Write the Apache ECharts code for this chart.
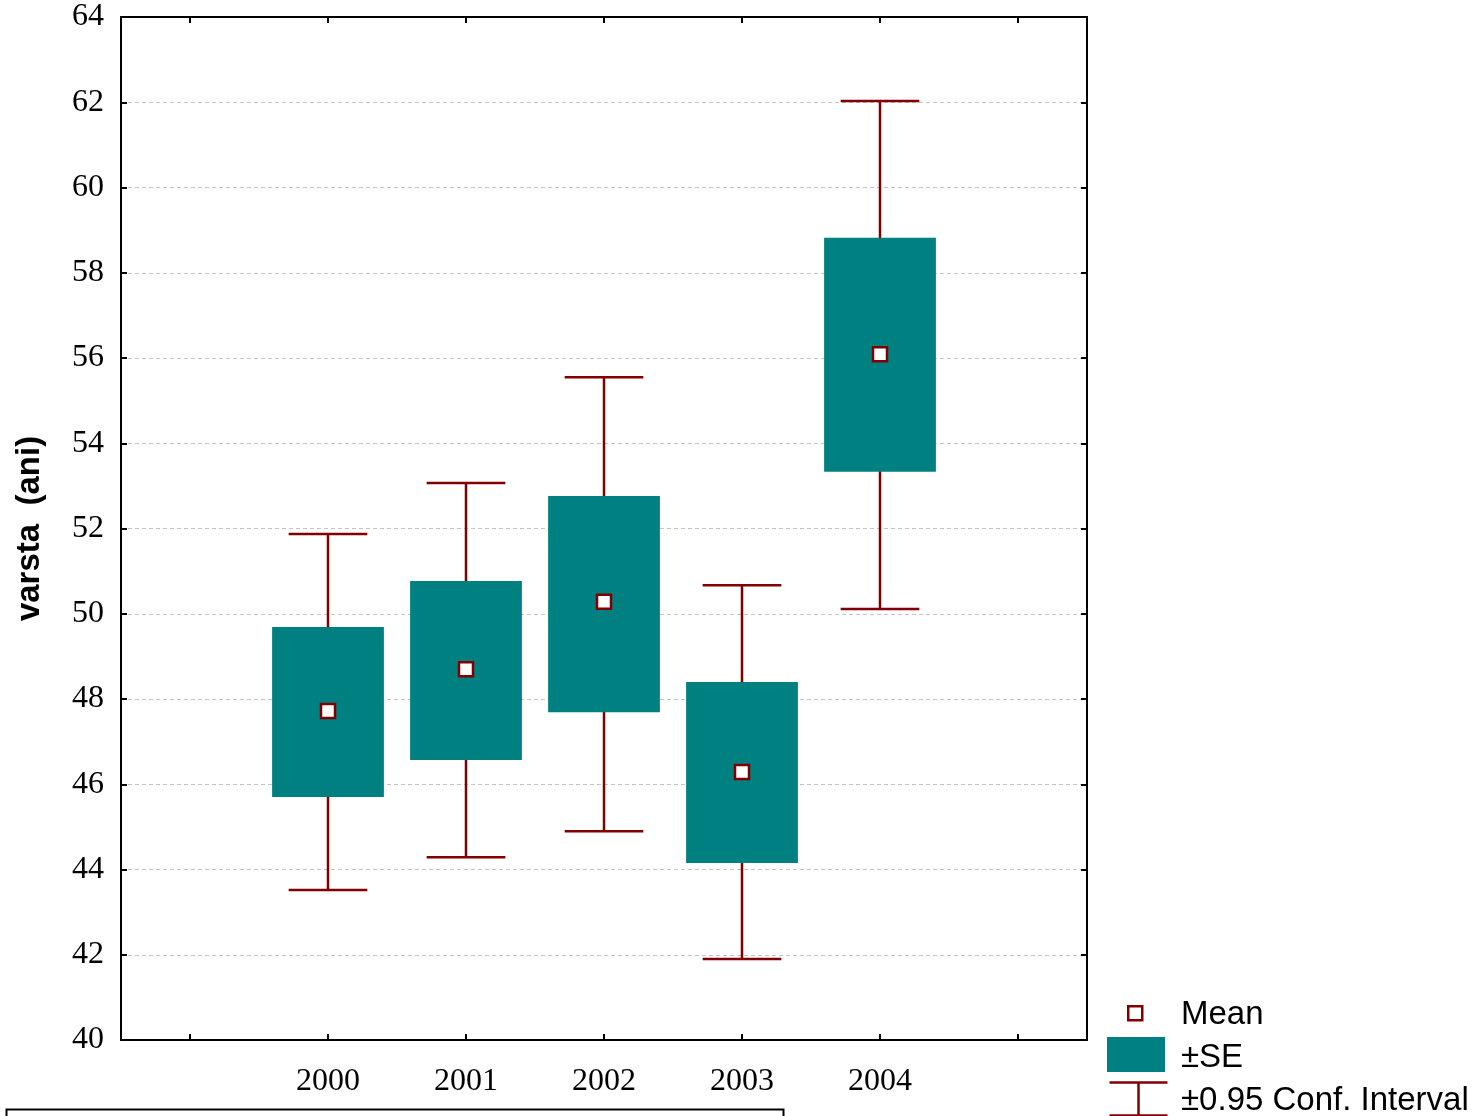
<!DOCTYPE html>
<html><head><meta charset="utf-8">
<script src="https://cdn.jsdelivr.net/npm/echarts@6/dist/echarts.min.js"></script>
<style>html,body{margin:0;padding:0;background:#fff}#c{width:1476px;height:1116px}</style>
</head><body><div id="c"></div>
<script>
var categories = ['', '2000', '2001', '2002', '2003', '2004', ''];
var years = ['2000', '2001', '2002', '2003', '2004'];
var meanValues = [47.72, 48.70, 50.28, 46.29, 56.09];
var seLow = [45.70, 46.57, 47.69, 44.15, 53.33];
var seHigh = [49.69, 50.77, 52.76, 48.40, 58.82];
var ciLow = [43.52, 44.29, 44.90, 41.90, 50.11];
var ciHigh = [51.87, 53.07, 55.55, 50.67, 62.03];
var yTicks = { min: 40, max: 64, interval: 2 };

var TEAL = '#008080', RED = '#800000';
var chart = echarts.init(document.getElementById('c'));

var seData = years.map(function (y, i) { return [y, seLow[i], seHigh[i]]; });
var ciData = years.map(function (y, i) { return [y, ciLow[i], ciHigh[i]]; });
var meanData = years.map(function (y, i) { return [y, meanValues[i]]; });

var serifFont = '"Liberation Serif", "Times New Roman", serif';
var sansFont = '"Liberation Sans", Arial, sans-serif';

chart.setOption({
  animation: false,
  grid: { left: 121, right: 389, top: 17, bottom: 76, containLabel: false, outerBoundsMode: 'none' },
  xAxis: [{
    type: 'category', data: categories, position: 'bottom',
    boundaryGap: true,
    axisLine: { show: true, lineStyle: { color: '#000', width: 2 } },
    axisTick: { show: true, inside: true, length: 6, alignWithLabel: true, lineStyle: { color: '#000', width: 2 } },
    axisLabel: { color: '#000', fontFamily: serifFont, fontSize: 32, margin: 26, interval: 0 },
    splitLine: { show: false }
  }, {
    type: 'category', data: categories, position: 'top',
    boundaryGap: true,
    axisLine: { show: true, lineStyle: { color: '#000', width: 2 } },
    axisTick: { show: true, inside: true, length: 6, alignWithLabel: true, lineStyle: { color: '#000', width: 2 } },
    axisLabel: { show: false },
    splitLine: { show: false }
  }],
  yAxis: [{
    type: 'value', min: yTicks.min, max: yTicks.max, interval: yTicks.interval, position: 'left',
    name: 'varsta  (ani)', nameLocation: 'middle', nameRotate: 90, nameGap: 75,
    nameTextStyle: { color: '#000', fontFamily: sansFont, fontSize: 33, fontWeight: 'bold' },
    axisLine: { show: true, lineStyle: { color: '#000', width: 2 } },
    axisTick: { show: true, inside: true, length: 6, lineStyle: { color: '#000', width: 2 } },
    axisLabel: { color: '#000', fontFamily: serifFont, fontSize: 32, margin: 17, padding: [6, 0, 0, 0] },
    splitLine: { show: true, lineStyle: { color: '#c4c4c4', width: 1, type: [4, 3] } }
  }, {
    type: 'value', min: yTicks.min, max: yTicks.max, interval: yTicks.interval, position: 'right',
    axisLine: { show: true, lineStyle: { color: '#000', width: 2 } },
    axisTick: { show: true, inside: true, length: 6, lineStyle: { color: '#000', width: 2 } },
    axisLabel: { show: false },
    splitLine: { show: false }
  }],
  series: [{
    type: 'custom', name: '±0.95 Conf. Interval', data: ciData, z: 2,
    encode: { x: 0, y: [1, 2] },
    renderItem: function (params, api) {
      var lo = api.coord([api.value(0), api.value(1)]);
      var hi = api.coord([api.value(0), api.value(2)]);
      var w = api.size([1, 0])[0] * 0.57;
      var st = { stroke: RED, lineWidth: 2.5 };
      return { type: 'group', children: [
        { type: 'line', shape: { x1: lo[0], y1: lo[1], x2: hi[0], y2: hi[1] }, style: st },
        { type: 'line', shape: { x1: lo[0] - w / 2, y1: lo[1], x2: lo[0] + w / 2, y2: lo[1] }, style: st },
        { type: 'line', shape: { x1: hi[0] - w / 2, y1: hi[1], x2: hi[0] + w / 2, y2: hi[1] }, style: st }
      ] };
    }
  }, {
    type: 'custom', name: '±SE', data: seData, z: 3,
    encode: { x: 0, y: [1, 2] },
    renderItem: function (params, api) {
      var lo = api.coord([api.value(0), api.value(1)]);
      var hi = api.coord([api.value(0), api.value(2)]);
      var w = api.size([1, 0])[0] * 0.81;
      return { type: 'rect', shape: { x: lo[0] - w / 2, y: hi[1], width: w, height: lo[1] - hi[1] },
        style: { fill: TEAL } };
    }
  }, {
    type: 'scatter', name: 'Mean', data: meanData, z: 4,
    symbol: 'rect', symbolSize: 14,
    itemStyle: { color: '#fff', borderColor: RED, borderWidth: 2.5, opacity: 1 }
  }],
  graphic: [
    { type: 'rect', left: 1127, top: 1005, shape: { width: 14, height: 14 }, style: { fill: '#fff', stroke: RED, lineWidth: 2.5 } },
    { type: 'text', left: 1181, top: 998, style: { text: 'Mean', font: '33px ' + sansFont, fill: '#000' } },
    { type: 'rect', left: 1107, top: 1037, shape: { width: 58, height: 35 }, style: { fill: TEAL } },
    { type: 'text', left: 1181, top: 1041, style: { text: '±SE', font: '33px ' + sansFont, fill: '#000' } },
    { type: 'group', left: 1107, top: 1080, children: [
      { type: 'line', shape: { x1: 0, y1: 1, x2: 58, y2: 1 }, style: { stroke: RED, lineWidth: 2.5 } },
      { type: 'line', shape: { x1: 29, y1: 1, x2: 29, y2: 34 }, style: { stroke: RED, lineWidth: 2.5 } },
      { type: 'line', shape: { x1: 0, y1: 34, x2: 58, y2: 34 }, style: { stroke: RED, lineWidth: 2.5 } }
    ] },
    { type: 'text', left: 1181, top: 1084, style: { text: '±0.95 Conf. Interval', font: '33px ' + sansFont, fill: '#000' } },
    { type: 'rect', left: 4, top: 1107, shape: { width: 777, height: 30 }, style: { fill: 'none', stroke: '#000', lineWidth: 2 } }
  ]
});
</script></body></html>
